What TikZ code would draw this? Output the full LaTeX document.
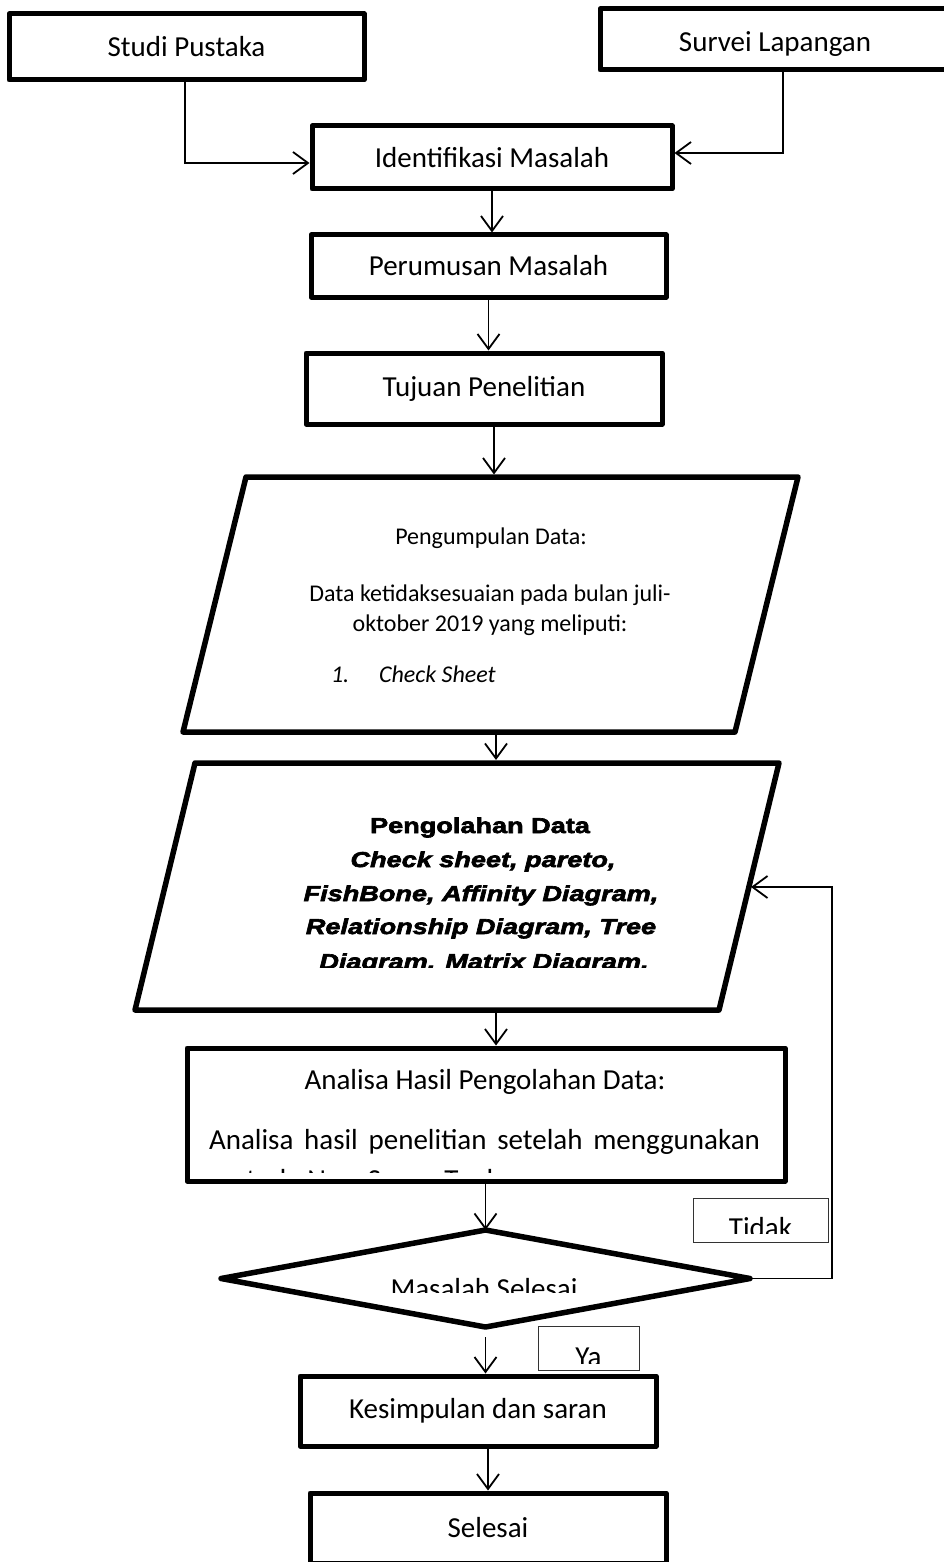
\documentclass[tikz,border=0pt]{standalone}
\usepackage{fontspec}
\setmainfont{Carlito}
\newfontfamily\heavyfont{Liberation Sans Bold}[FakeStretch=1.26, FakeBold=3, ItalicFont={Liberation Sans Bold Italic}]
\usetikzlibrary{arrows.meta,shapes.geometric}

\begin{document}
\begin{tikzpicture}[x=1pt,y=-1pt,
  every node/.style={inner sep=0pt, outer sep=0pt},
  main/.style={font=\fontsize{29pt}{35pt}\selectfont},
  small/.style={font=\fontsize{24pt}{29pt}\selectfont},
  heavy/.style={font=\heavyfont\fontsize{21.5pt}{33.7pt}\selectfont},
  stepbox/.style={draw, line width=5pt, line join=round, outer sep=2.5pt, main},
  shapeline/.style={draw, line width=5.5pt, line join=round},
  labelbox/.style={draw=black!80, line width=1pt, fill=white},
  arr/.style={draw, line width=1.8pt, -{Straight Barb[length=15pt,width=22pt]}}
]
\useasboundingbox (0,0) rectangle (944,1562);

% --- sources and first steps
\node[stepbox, minimum width=355pt, minimum height=66pt] (studi) at (186.5,47) {Studi Pustaka};
\node[stepbox, minimum width=350pt, minimum height=61pt] (survei) at (775,39.5) {};
\node[main, anchor=base] (surveitxt) at (775,52) {Survei Lapangan};
\node[stepbox, minimum width=360pt, minimum height=63pt] (ident) at (492,157.5) {Identifikasi Masalah};
\node[stepbox, minimum width=355pt, minimum height=62pt] (perum) at (488.5,266) {Perumusan Masalah};
\node[stepbox, minimum width=356pt, minimum height=71pt] (tujuan) at (484,388.5) {Tujuan Penelitian};

\coordinate (sb) at (185,163);
\coordinate (vb) at (783,153);
\draw[arr] (studi.south -| sb) -- (sb) -- (sb -| ident.west);
\draw[arr] (survei.south -| vb) -- (vb) -- (vb -| ident.east);
\draw[arr] (ident.south) -- (ident.south |- perum.north);
\draw[arr] (perum.south) -- (perum.south |- tujuan.north);

% --- data collection (parallelogram)
\coordinate (p1a) at (246,477);
\coordinate (p1b) at (798,477);
\coordinate (p1c) at (735,732);
\coordinate (p1d) at (183,732);
\draw[shapeline] (p1a) -- (p1b) -- (p1c) -- (p1d) -- cycle;
\node[small, anchor=base] (p1t1) at (491,544) {Pengumpulan Data:};
\node[small, anchor=base] (p1t2) at (490,601) {Data ketidaksesuaian pada bulan juli-};
\node[small, anchor=base] (p1t3) at (490,631) {oktober 2019 yang meliputi:};
\node[small, anchor=base west] (p1num) at (331,682) {\itshape 1.};
\node[small, anchor=base west] (p1chk) at (379,682) {\itshape Check Sheet};

\coordinate (p1in) at (494,474.5);
\draw[arr] (tujuan.south -| p1in) -- (p1in);

% --- data processing (parallelogram)
\coordinate (p2a) at (195,763);
\coordinate (p2b) at (779,763);
\coordinate (p2c) at (719,1010);
\coordinate (p2d) at (135,1010);
\draw[shapeline] (p2a) -- (p2b) -- (p2c) -- (p2d) -- cycle;
\begin{scope}
  \clip (140,790) rectangle (770,967);
  \node[heavy, anchor=base] (p2t1) at (480,833) {Pengolahan Data};
  \node[heavy, anchor=base] (p2t2) at (483,867) {\itshape Check sheet, pareto,};
  \node[heavy, anchor=base] (p2t3) at (481,901) {\itshape FishBone, Affinity Diagram,};
  \node[heavy, anchor=base] (p2t4) at (481,934) {\itshape Relationship Diagram, Tree};
  \node[heavy, anchor=base] (p2t5) at (484,969) {\itshape Diagram. Matrix Diagram.};
\end{scope}

\coordinate (p1out) at (496,735);
\coordinate (p2in) at (496,760);
\draw[arr] (p1out) -- (p2in);

% --- analysis
\node[stepbox, minimum width=598pt, minimum height=133pt] (analisa) at (486,1114.5) {};
\node[main, anchor=base] (an1) at (485,1089) {Analisa Hasil Pengolahan Data:};
\node[main, anchor=base west] (an2) at (209,1149) {\makebox[551pt][s]{Analisa hasil penelitian setelah menggunakan}};
\begin{scope}
  \clip (200,1150) rectangle (780,1172);
  \node[main, anchor=base west] (an3) at (209,1189) {metode New Seven Tools};
\end{scope}

\coordinate (p2out) at (496,1013);
\draw[arr] (p2out) -- (p2out |- analisa.north);

% --- decision
\node[diamond, draw, line width=5.5pt, line join=round, minimum width=529pt, minimum height=97pt] (dec) at (485.5,1278.5) {};
\begin{scope}
  \clip (300,1250) rectangle (680,1292);
  \node[main, anchor=base] (dectxt) at (484,1298) {Masalah Selesai};
\end{scope}
\draw[arr] (analisa.south -| dec.north) -- (dec.north);

\node[labelbox, minimum width=135pt, minimum height=44pt] (tidak) at (760.5,1220) {};
\begin{scope}
  \clip (694,1199) rectangle (827,1233);
  \node[main, anchor=base] (tidaktxt) at (760.5,1237) {Tidak};
\end{scope}

\node[labelbox, minimum width=101pt, minimum height=44pt] (ya) at (588.5,1348) {};
\begin{scope}
  \clip (539,1327) rectangle (638,1363);
  \node[main, anchor=base] (yatxt) at (588.5,1366) {Ya};
\end{scope}

% loop back to processing
\coordinate (fb) at (832,887);
\coordinate (p2side) at (751,887);
\draw[arr] (dec.east) -| (fb) -- (p2side);

% --- conclusion and end
\node[stepbox, minimum width=356pt, minimum height=70pt] (kes) at (478,1411) {Kesimpulan dan saran};
\node[stepbox, minimum width=356pt, minimum height=70pt] (sel) at (488,1528) {Selesai};

\draw[arr] ([yshift=-10pt]dec.south) -- (dec.south |- kes.north);
\draw[arr] (kes.south -| sel.north) -- (sel.north);
\end{tikzpicture}
\end{document}
